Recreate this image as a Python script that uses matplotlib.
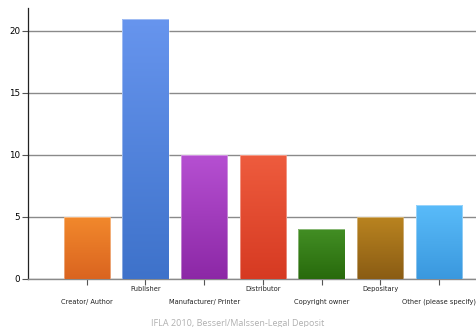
import numpy as np
import matplotlib.pyplot as plt
from matplotlib.colors import LinearSegmentedColormap

categories = ["Creator/ Author", "Publisher", "Manufacturer/ Printer", "Distributor",
              "Copyright owner", "Depositary", "Other (please specify)"]
counts = [5, 21, 10, 10, 4, 5, 6]
top_colors = ["#F2892C", "#6795EE", "#B650D2", "#EE5C3E", "#428E24", "#BA8420", "#5ABCFA"]
bottom_colors = ["#DA6420", "#3E72CA", "#8C28A6", "#D63A22", "#286A0C", "#8A5C14", "#3A98DE"]

fig = plt.figure(figsize=(4.76, 3.27), dpi=100)
ax = fig.add_axes([0.0588, 0.1468, 0.9412, 0.8287])

x = np.arange(len(categories))
bars = ax.bar(x, counts, width=0.79, color="none", edgecolor="none", zorder=3)

# vertical gradient fill for every bar, with a faint light outline
grad = np.linspace(1, 0, 256).reshape(-1, 1)
for b, c1, c2 in zip(bars, top_colors, bottom_colors):
    cmap = LinearSegmentedColormap.from_list("g", [c2, c1])
    x0, y0 = b.get_x(), b.get_y()
    w, h = b.get_width(), b.get_height()
    im = ax.imshow(grad, cmap=cmap, aspect="auto", extent=[x0, x0 + w, y0, y0 + h],
                   zorder=3, interpolation="bilinear")
    im.set_clip_path(b)
    ax.bar(b.get_x() + w / 2, h, width=w, color="none", edgecolor="#ffffff",
           linewidth=0.6, alpha=0.45, zorder=4)

ax.set_xlim(-1, 6.63)
ax.set_ylim(0, 21.85)
ax.set_yticks([0, 5, 10, 15, 20])
ax.yaxis.grid(True, color="#8a8a8a", linewidth=1.0, zorder=1)
ax.set_axisbelow(True)

for s in ["top", "right"]:
    ax.spines[s].set_visible(False)
ax.spines["left"].set_color("#222222")
ax.spines["left"].set_linewidth(0.9)
ax.spines["bottom"].set_color("#8a8a8a")
ax.spines["bottom"].set_linewidth(1.0)

ax.tick_params(axis="y", length=4, width=0.8, color="#555555", labelsize=6.3, pad=1.5)
ax.tick_params(axis="x", length=4, width=0.8, color="#555555", labelsize=4.8, pad=2)
ax.set_xticks(x)
ax.set_xticklabels([])

# staggered category labels
for i, name in enumerate(categories):
    yoff = -0.026 if i % 2 == 1 else -0.072
    ax.text(i, yoff, name, transform=ax.get_xaxis_transform(), ha="center",
            va="top", fontsize=4.8, color="#222222")

fig.text(0.5, 0.012, "IFLA 2010, Besserl/Malssen-Legal Deposit", ha="center",
         va="center", fontsize=6.5, color="#b0b0b0", family="Open Sans")

fig.savefig("out.png", dpi=100)
